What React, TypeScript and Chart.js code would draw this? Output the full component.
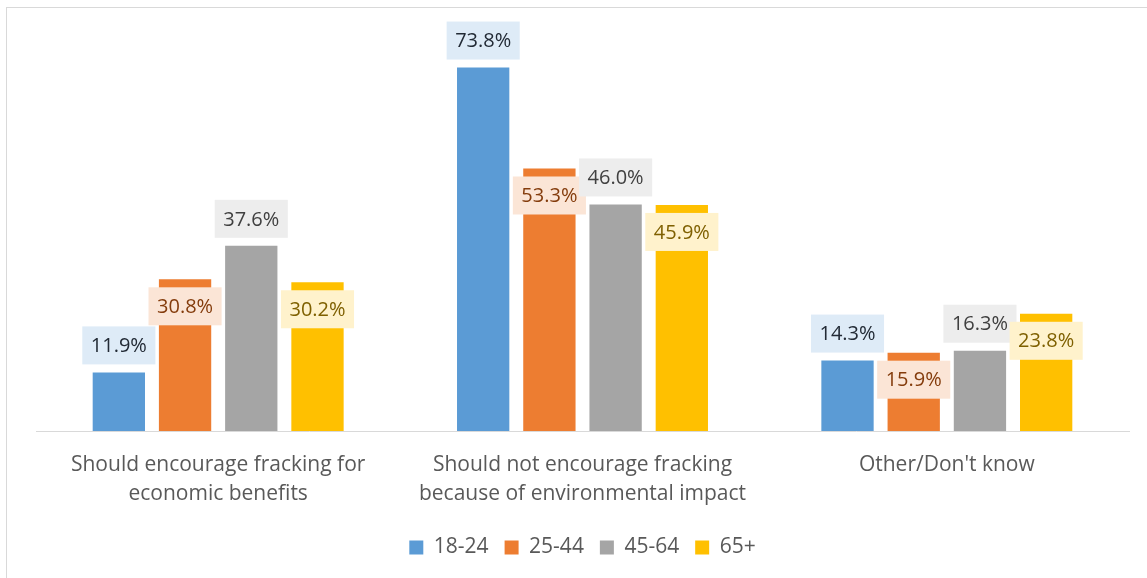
import React, { useEffect, useRef } from "react";
import { Chart, registerables } from "chart.js";

Chart.register(...registerables);

const categories: string[][] = [
  ["Should encourage fracking for", "economic benefits"],
  ["Should not encourage fracking", "because of environmental impact"],
  ["Other/Don't know"],
];
const seriesNames = ["18-24", "25-44", "45-64", "65+"];
const age1824 = [11.9, 73.8, 14.3];
const age2544 = [30.8, 53.3, 15.9];
const age4564 = [37.6, 46.0, 16.3];
const age65 = [30.2, 45.9, 23.8];

const barColors = ["#5b9bd5", "#ed7d31", "#a5a5a5", "#ffc000"];
const boxColors = ["#deebf7", "#fbe5d6", "#ededed", "#fff2cc"];
const textColors = ["#222a35", "#843c0c", "#404040", "#7f6000"];
const FONT = "'Open Sans', sans-serif";

const labelPlugin = {
  id: "boxLabels",
  afterDatasetsDraw(chart: any) {
    const ctx = chart.ctx;
    ctx.save();
    ctx.font = `20px ${FONT}`;
    ctx.textAlign = "center";
    ctx.textBaseline = "middle";
    chart.data.datasets.forEach((ds: any, di: number) => {
      const meta = chart.getDatasetMeta(di);
      meta.data.forEach((bar: any, i: number) => {
        const txt = Number(ds.data[i]).toFixed(1) + "%";
        const tw = ctx.measureText(txt).width;
        const w = tw + 17;
        const h = 38;
        const above = di % 2 === 0;
        const cy = above ? bar.y - 8 - h / 2 : bar.y + 8 + h / 2;
        ctx.fillStyle = boxColors[di];
        ctx.fillRect(bar.x - w / 2, cy - h / 2, w, h);
        ctx.fillStyle = textColors[di];
        ctx.fillText(txt, bar.x, cy + 1);
      });
    });
    ctx.restore();
  },
};

export default function App() {
  const ref = useRef<HTMLCanvasElement>(null);
  useEffect(() => {
    if (!ref.current) return;
    const series = [age1824, age2544, age4564, age65];
    const chart = new Chart(ref.current, {
      type: "bar",
      data: {
        labels: categories,
        datasets: series.map((d, i) => ({
          label: seriesNames[i],
          data: d,
          backgroundColor: barColors[i],
          categoryPercentage: 0.727,
          barPercentage: 0.79,
        })),
      },
      options: {
        animation: false,
        responsive: false,
        devicePixelRatio: 1,
        layout: { padding: { left: 36, right: 18, top: 37, bottom: 10 } },
        scales: {
          y: { display: false, min: 0, max: 80 },
          x: {
            grid: { display: false },
            border: { color: "#d9d9d9", width: 1 },
            ticks: {
              color: "#595959",
              font: { family: FONT, size: 21, lineHeight: 1.4 },
              padding: 11,
              maxRotation: 0,
              autoSkip: false,
            },
            afterFit: (scale: any) => {
              scale.height = 90;
            },
          },
        },
        plugins: {
          legend: {
            position: "bottom",
            labels: {
              color: "#595959",
              font: { family: FONT, size: 21 },
              boxWidth: 14,
              boxHeight: 14,
              padding: 16,
            },
          },
          tooltip: { enabled: false },
        },
      },
      plugins: [labelPlugin],
    });
    return () => chart.destroy();
  }, []);
  return (
    <div style={{ position: "absolute", left: 0, top: 0, width: 1147, height: 578, overflow: "hidden", background: "#fff" }}>
      <div
        style={{
          position: "absolute",
          left: 6,
          top: 7,
          width: 1200,
          height: 600,
          borderLeft: "1px solid #d9d9d9",
          borderTop: "1px solid #d9d9d9",
        }}
      />
      <canvas ref={ref} width={1147} height={578} style={{ position: "absolute", left: 0, top: 0, width: 1147, height: 578 }} />
    </div>
  );
}
